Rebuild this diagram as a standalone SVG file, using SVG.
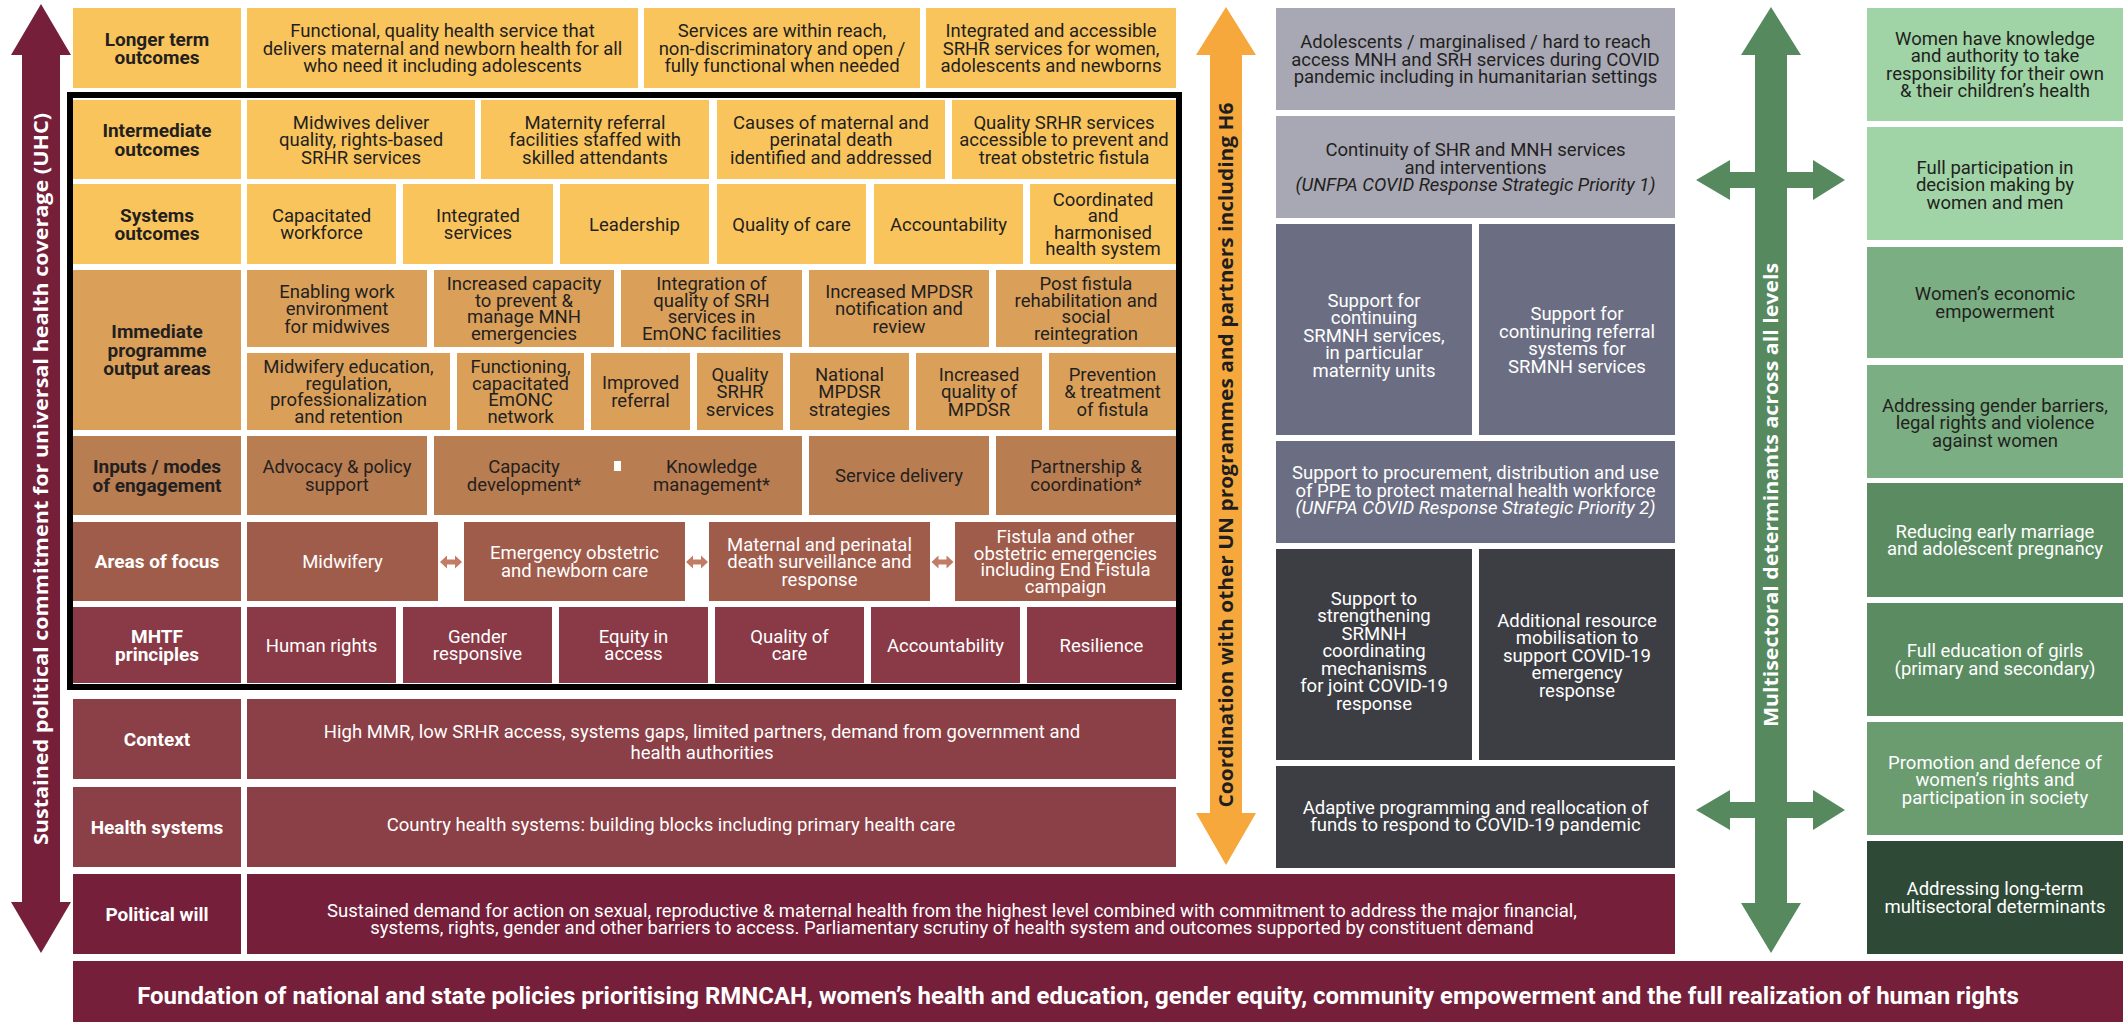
<svg xmlns="http://www.w3.org/2000/svg" width="2123" height="1022" viewBox="0 0 2123 1022">
<style>
.b{font-family:Roboto,"Liberation Sans",Arial,sans-serif;font-size:18.5px;text-anchor:middle}
.lb{font-family:Roboto,"Liberation Sans",Arial,sans-serif;font-size:19px;font-weight:700;text-anchor:middle}
.fd{font-family:Roboto,"Liberation Sans",Arial,sans-serif;font-size:24px;font-weight:700;text-anchor:middle;fill:#FFFFFF}
.rot{font-family:"Open Sans","DejaVu Sans",sans-serif;font-size:20px;font-weight:700;text-anchor:middle}
.dk{fill:#231F20}
.wt{fill:#FFFFFF}
.it{font-style:italic}
.y{fill:#FAC45C}.im{fill:#DAA05A}.in{fill:#B97D52}.ar{fill:#A05C4B}.mh{fill:#8A3A46}.cx{fill:#8B3F46}.pw{fill:#751F3A}
.gr{fill:#A8A8B4}.sl{fill:#6B6E82}.dg{fill:#3D3E43}
.g1{fill:#A0D3A5}.g2{fill:#7BAE82}.g3{fill:#5B8C61}.g4{fill:#6A9C70}.g5{fill:#2E4A36}
</style>
<defs>
<path id="dbl" d="M-11,0 L-4,-6.5 L-4,-2.5 L4,-2.5 L4,-6.5 L11,0 L4,6.5 L4,2.5 L-4,2.5 L-4,6.5 Z" fill="#C27C65"/>
</defs>
<rect x="0" y="0" width="2123" height="1022" fill="#FFFFFF"/>

<!-- Longer term outcomes -->
<g id="lt-label"><rect class="y" x="73" y="8" width="168" height="80"/><text class="lb dk" x="157" y="45.5">Longer term<tspan x="157" y="64">outcomes</tspan></text></g>
<g id="lt-1"><rect class="y" x="247" y="8" width="391" height="80"/><text class="b dk" x="442.5" y="37">Functional, quality health service that<tspan x="442.5" y="54.5">delivers maternal and newborn health for all</tspan><tspan x="442.5" y="72">who need it including adolescents</tspan></text></g>
<g id="lt-2"><rect class="y" x="644" y="8" width="276" height="80"/><text class="b dk" x="782" y="37">Services are within reach,<tspan x="782" y="54.5">non-discriminatory and open /</tspan><tspan x="782" y="72">fully functional when needed</tspan></text></g>
<g id="lt-3"><rect class="y" x="926" y="8" width="250" height="80"/><text class="b dk" x="1051" y="37">Integrated and accessible<tspan x="1051" y="54.5">SRHR services for women,</tspan><tspan x="1051" y="72">adolescents and newborns</tspan></text></g>

<!-- Intermediate outcomes -->
<g id="io-label"><rect class="y" x="73" y="100" width="168" height="79"/><text class="lb dk" x="157" y="137">Intermediate<tspan x="157" y="155.5">outcomes</tspan></text></g>
<g id="io-1"><rect class="y" x="247" y="100" width="228" height="79"/><text class="b dk" x="361" y="128.5">Midwives deliver<tspan x="361" y="146">quality, rights-based</tspan><tspan x="361" y="163.5">SRHR services</tspan></text></g>
<g id="io-2"><rect class="y" x="481" y="100" width="228" height="79"/><text class="b dk" x="595" y="128.5">Maternity referral<tspan x="595" y="146">facilities staffed with</tspan><tspan x="595" y="163.5">skilled attendants</tspan></text></g>
<g id="io-3"><rect class="y" x="717" y="100" width="228" height="79"/><text class="b dk" x="831" y="128.5">Causes of maternal and<tspan x="831" y="146">perinatal death</tspan><tspan x="831" y="163.5">identified and addressed</tspan></text></g>
<g id="io-4"><rect class="y" x="952" y="100" width="224" height="79"/><text class="b dk" x="1064" y="128.5">Quality SRHR services<tspan x="1064" y="146">accessible to prevent and</tspan><tspan x="1064" y="163.5">treat obstetric fistula</tspan></text></g>

<!-- Systems outcomes -->
<g id="so-label"><rect class="y" x="73" y="184" width="168" height="80"/><text class="lb dk" x="157" y="221.5">Systems<tspan x="157" y="240">outcomes</tspan></text></g>
<g id="so-1"><rect class="y" x="247" y="184" width="149" height="80"/><text class="b dk" x="321.5" y="221.75">Capacitated<tspan x="321.5" y="239.25">workforce</tspan></text></g>
<g id="so-2"><rect class="y" x="403" y="184" width="150" height="80"/><text class="b dk" x="478" y="221.75">Integrated<tspan x="478" y="239.25">services</tspan></text></g>
<g id="so-3"><rect class="y" x="560" y="184" width="149" height="80"/><text class="b dk" x="634.5" y="230.5">Leadership</text></g>
<g id="so-4"><rect class="y" x="717" y="184" width="149" height="80"/><text class="b dk" x="791.5" y="230.5">Quality of care</text></g>
<g id="so-5"><rect class="y" x="874" y="184" width="149" height="80"/><text class="b dk" x="948.5" y="230.5">Accountability</text></g>
<g id="so-6"><rect class="y" x="1030" y="184" width="146" height="80"/><text class="b dk" x="1103" y="205.75">Coordinated<tspan x="1103" y="222.25">and</tspan><tspan x="1103" y="238.75">harmonised</tspan><tspan x="1103" y="255.25">health system</tspan></text></g>

<!-- Immediate programme output areas -->
<g id="ip-label"><rect class="im" x="73" y="270" width="168" height="160"/><text class="lb dk" x="157" y="338.3">Immediate<tspan x="157" y="356.8">programme</tspan><tspan x="157" y="375.3">output areas</tspan></text></g>
<g id="ip-1"><rect class="im" x="247" y="270" width="180" height="77"/><text class="b dk" x="337" y="297.5">Enabling work<tspan x="337" y="315">environment</tspan><tspan x="337" y="332.5">for midwives</tspan></text></g>
<g id="ip-2"><rect class="im" x="434" y="270" width="180" height="77"/><text class="b dk" x="524" y="290.25">Increased capacity<tspan x="524" y="306.75">to prevent &amp;</tspan><tspan x="524" y="323.25">manage MNH</tspan><tspan x="524" y="339.75">emergencies</tspan></text></g>
<g id="ip-3"><rect class="im" x="621" y="270" width="181" height="77"/><text class="b dk" x="711.5" y="290.25">Integration of<tspan x="711.5" y="306.75">quality of SRH</tspan><tspan x="711.5" y="323.25">services in</tspan><tspan x="711.5" y="339.75">EmONC facilities</tspan></text></g>
<g id="ip-4"><rect class="im" x="809" y="270" width="180" height="77"/><text class="b dk" x="899" y="297.5">Increased MPDSR<tspan x="899" y="315">notification and</tspan><tspan x="899" y="332.5">review</tspan></text></g>
<g id="ip-5"><rect class="im" x="996" y="270" width="180" height="77"/><text class="b dk" x="1086" y="290.25">Post fistula<tspan x="1086" y="306.75">rehabilitation and</tspan><tspan x="1086" y="323.25">social</tspan><tspan x="1086" y="339.75">reintegration</tspan></text></g>
<g id="ip-6"><rect class="im" x="247" y="353" width="203" height="77"/><text class="b dk" x="348.5" y="373.25">Midwifery education,<tspan x="348.5" y="389.75">regulation,</tspan><tspan x="348.5" y="406.25">professionalization</tspan><tspan x="348.5" y="422.75">and retention</tspan></text></g>
<g id="ip-7"><rect class="im" x="457" y="353" width="127" height="77"/><text class="b dk" x="520.5" y="373.25">Functioning,<tspan x="520.5" y="389.75">capacitated</tspan><tspan x="520.5" y="406.25">EmONC</tspan><tspan x="520.5" y="422.75">network</tspan></text></g>
<g id="ip-8"><rect class="im" x="591" y="353" width="99" height="77"/><text class="b dk" x="640.5" y="389.25">Improved<tspan x="640.5" y="406.75">referral</tspan></text></g>
<g id="ip-9"><rect class="im" x="697" y="353" width="86" height="77"/><text class="b dk" x="740" y="380.5">Quality<tspan x="740" y="398">SRHR</tspan><tspan x="740" y="415.5">services</tspan></text></g>
<g id="ip-10"><rect class="im" x="790" y="353" width="119" height="77"/><text class="b dk" x="849.5" y="380.5">National<tspan x="849.5" y="398">MPDSR</tspan><tspan x="849.5" y="415.5">strategies</tspan></text></g>
<g id="ip-11"><rect class="im" x="916" y="353" width="126" height="77"/><text class="b dk" x="979" y="380.5">Increased<tspan x="979" y="398">quality of</tspan><tspan x="979" y="415.5">MPDSR</tspan></text></g>
<g id="ip-12"><rect class="im" x="1049" y="353" width="127" height="77"/><text class="b dk" x="1112.5" y="380.5">Prevention<tspan x="1112.5" y="398">&amp; treatment</tspan><tspan x="1112.5" y="415.5">of fistula</tspan></text></g>

<!-- Inputs / modes of engagement -->
<g id="in-label"><rect class="in" x="73" y="436" width="168" height="79"/><text class="lb dk" x="157" y="473">Inputs / modes<tspan x="157" y="491.5">of engagement</tspan></text></g>
<g id="in-1"><rect class="in" x="247" y="436" width="180" height="79"/><text class="b dk" x="337" y="473.25">Advocacy &amp; policy<tspan x="337" y="490.75">support</tspan></text></g>
<g id="in-2"><rect class="in" x="434" y="436" width="180" height="79"/><rect class="in" x="614" y="436" width="7" height="25"/><rect class="in" x="614" y="471" width="7" height="44"/><text class="b dk" x="524" y="473.25">Capacity<tspan x="524" y="490.75">development*</tspan></text></g>
<g id="in-3"><rect class="in" x="621" y="436" width="181" height="79"/><text class="b dk" x="711.5" y="473.25">Knowledge<tspan x="711.5" y="490.75">management*</tspan></text></g>
<g id="in-4"><rect class="in" x="809" y="436" width="180" height="79"/><text class="b dk" x="899" y="482">Service delivery</text></g>
<g id="in-5"><rect class="in" x="996" y="436" width="180" height="79"/><text class="b dk" x="1086" y="473.25">Partnership &amp;<tspan x="1086" y="490.75">coordination*</tspan></text></g>

<!-- Areas of focus -->
<g id="af-label"><rect class="ar" x="73" y="522" width="168" height="79"/><text class="lb wt" x="157" y="568.3">Areas of focus</text></g>
<g id="af-1"><rect class="ar" x="247" y="522" width="191" height="79"/><text class="b wt" x="342.5" y="568">Midwifery</text></g>
<g id="af-2"><rect class="ar" x="464" y="522" width="221" height="79"/><text class="b wt" x="574.5" y="559.25">Emergency obstetric<tspan x="574.5" y="576.75">and newborn care</tspan></text></g>
<g id="af-3"><rect class="ar" x="709" y="522" width="221" height="79"/><text class="b wt" x="819.5" y="550.5">Maternal and perinatal<tspan x="819.5" y="568">death surveillance and</tspan><tspan x="819.5" y="585.5">response</tspan></text></g>
<g id="af-4"><rect class="ar" x="955" y="522" width="221" height="79"/><text class="b wt" x="1065.5" y="543.25">Fistula and other<tspan x="1065.5" y="559.75">obstetric emergencies</tspan><tspan x="1065.5" y="576.25">including End Fistula</tspan><tspan x="1065.5" y="592.75">campaign</tspan></text></g>

<!-- MHTF principles -->
<g id="mh-label"><rect class="mh" x="73" y="607" width="168" height="76"/><text class="lb wt" x="157" y="642.5">MHTF<tspan x="157" y="661">principles</tspan></text></g>
<g id="mh-1"><rect class="mh" x="247" y="607" width="149" height="76"/><text class="b wt" x="321.5" y="651.5">Human rights</text></g>
<g id="mh-2"><rect class="mh" x="403" y="607" width="149" height="76"/><text class="b wt" x="477.5" y="642.75">Gender<tspan x="477.5" y="660.25">responsive</tspan></text></g>
<g id="mh-3"><rect class="mh" x="559" y="607" width="149" height="76"/><text class="b wt" x="633.5" y="642.75">Equity in<tspan x="633.5" y="660.25">access</tspan></text></g>
<g id="mh-4"><rect class="mh" x="715" y="607" width="149" height="76"/><text class="b wt" x="789.5" y="642.75">Quality of<tspan x="789.5" y="660.25">care</tspan></text></g>
<g id="mh-5"><rect class="mh" x="871" y="607" width="149" height="76"/><text class="b wt" x="945.5" y="651.5">Accountability</text></g>
<g id="mh-6"><rect class="mh" x="1027" y="607" width="149" height="76"/><text class="b wt" x="1101.5" y="651.5">Resilience</text></g>

<g id="frame"><rect x="70" y="95" width="1109" height="592" fill="none" stroke="#000000" stroke-width="6"/></g>

<!-- Context / Health systems / Political will -->
<g id="ctx-label"><rect class="cx" x="73" y="699" width="168" height="80"/><text class="lb wt" x="157" y="745.8">Context</text></g>
<g id="ctx"><rect class="cx" x="247" y="699" width="929" height="80"/><text class="b wt" x="702" y="738">High MMR, low SRHR access, systems gaps, limited partners, demand from government and<tspan x="702" y="759">health authorities</tspan></text></g>
<g id="hs-label"><rect class="cx" x="73" y="787" width="168" height="80"/><text class="lb wt" x="157" y="833.8">Health systems</text></g>
<g id="hs"><rect class="cx" x="247" y="787" width="929" height="80"/><text class="b wt" x="671" y="831">Country health systems: building blocks including primary health care</text></g>
<g id="pw-label"><rect class="pw" x="73" y="874" width="168" height="80"/><text class="lb wt" x="157" y="920.8">Political will</text></g>
<g id="pw"><rect class="pw" x="247" y="874" width="1428" height="80"/><text class="b wt" x="952" y="916.5">Sustained demand for action on sexual, reproductive &amp; maternal health from the highest level combined with commitment to address the major financial,<tspan x="952" y="934">systems, rights, gender and other barriers to access. Parliamentary scrutiny of health system and outcomes supported by constituent demand</tspan></text></g>
<g id="foundation"><rect class="pw" x="73" y="961" width="2050" height="61"/><text class="fd" x="1078" y="1004">Foundation of national and state policies prioritising RMNCAH, women’s health and education, gender equity, community empowerment and the full realization of human rights</text></g>

<!-- COVID column -->
<g id="cv-1"><rect class="gr" x="1276" y="8" width="399" height="102"/><text class="b dk" x="1475.5" y="48">Adolescents / marginalised / hard to reach<tspan x="1475.5" y="65.5">access MNH and SRH services during COVID</tspan><tspan x="1475.5" y="83">pandemic including in humanitarian settings</tspan></text></g>
<g id="cv-2"><rect class="gr" x="1276" y="116" width="399" height="102"/><text class="b dk" x="1475.5" y="156">Continuity of SHR and MNH services<tspan x="1475.5" y="173.5">and interventions</tspan><tspan class="it" x="1475.5" y="191">(UNFPA COVID Response Strategic Priority 1)</tspan></text></g>
<g id="cv-3"><rect class="sl" x="1276" y="224" width="196" height="211"/><text class="b wt" x="1374" y="306.5">Support for<tspan x="1374" y="324">continuing</tspan><tspan x="1374" y="341.5">SRMNH services,</tspan><tspan x="1374" y="359">in particular</tspan><tspan x="1374" y="376.5">maternity units</tspan></text></g>
<g id="cv-4"><rect class="sl" x="1479" y="224" width="196" height="211"/><text class="b wt" x="1577" y="320.25">Support for<tspan x="1577" y="337.75">continuring referral</tspan><tspan x="1577" y="355.25">systems for</tspan><tspan x="1577" y="372.75">SRMNH services</tspan></text></g>
<g id="cv-5"><rect class="sl" x="1276" y="441" width="399" height="102"/><text class="b wt" x="1475.5" y="479">Support to procurement, distribution and use<tspan x="1475.5" y="496.5">of PPE to protect maternal health workforce</tspan><tspan class="it" x="1475.5" y="514">(UNFPA COVID Response Strategic Priority 2)</tspan></text></g>
<g id="cv-6"><rect class="dg" x="1276" y="549" width="196" height="211"/><text class="b wt" x="1374" y="604.5">Support to<tspan x="1374" y="622">strengthening</tspan><tspan x="1374" y="639.5">SRMNH</tspan><tspan x="1374" y="657">coordinating</tspan><tspan x="1374" y="674.5">mechanisms</tspan><tspan x="1374" y="692">for joint COVID-19</tspan><tspan x="1374" y="709.5">response</tspan></text></g>
<g id="cv-7"><rect class="dg" x="1479" y="549" width="196" height="211"/><text class="b wt" x="1577" y="626.5">Additional resource<tspan x="1577" y="644">mobilisation to</tspan><tspan x="1577" y="661.5">support COVID-19</tspan><tspan x="1577" y="679">emergency</tspan><tspan x="1577" y="696.5">response</tspan></text></g>
<g id="cv-8"><rect class="dg" x="1276" y="766" width="399" height="102"/><text class="b wt" x="1475.5" y="813.5">Adaptive programming and reallocation of<tspan x="1475.5" y="831">funds to respond to COVID-19 pandemic</tspan></text></g>

<!-- Multisectoral column -->
<g id="ms-1"><rect class="g1" x="1867" y="8" width="256" height="113"/><text class="b dk" x="1995" y="44.75">Women have knowledge<tspan x="1995" y="62.25">and authority to take</tspan><tspan x="1995" y="79.75">responsibility for their own</tspan><tspan x="1995" y="97.25">&amp; their children’s health</tspan></text></g>
<g id="ms-2"><rect class="g1" x="1867" y="127" width="256" height="113"/><text class="b dk" x="1995" y="173.5">Full participation in<tspan x="1995" y="191">decision making by</tspan><tspan x="1995" y="208.5">women and men</tspan></text></g>
<g id="ms-3"><rect class="g2" x="1867" y="247" width="256" height="111"/><text class="b dk" x="1995" y="300.25">Women’s economic<tspan x="1995" y="317.75">empowerment</tspan></text></g>
<g id="ms-4"><rect class="g2" x="1867" y="365" width="256" height="113"/><text class="b dk" x="1995" y="411.5">Addressing gender barriers,<tspan x="1995" y="429">legal rights and violence</tspan><tspan x="1995" y="446.5">against women</tspan></text></g>
<g id="ms-5"><rect class="g3" x="1867" y="483" width="256" height="114"/><text class="b wt" x="1995" y="537.75">Reducing early marriage<tspan x="1995" y="555.25">and adolescent pregnancy</tspan></text></g>
<g id="ms-6"><rect class="g3" x="1867" y="603" width="256" height="113"/><text class="b wt" x="1995" y="657.25">Full education of girls<tspan x="1995" y="674.75">(primary and secondary)</tspan></text></g>
<g id="ms-7"><rect class="g4" x="1867" y="722" width="256" height="113"/><text class="b wt" x="1995" y="768.5">Promotion and defence of<tspan x="1995" y="786">women’s rights and</tspan><tspan x="1995" y="803.5">participation in society</tspan></text></g>
<g id="ms-8"><rect class="g5" x="1867" y="841" width="256" height="113"/><text class="b wt" x="1995" y="895.25">Addressing long-term<tspan x="1995" y="912.75">multisectoral determinants</tspan></text></g>

<!-- Connectors -->
<g id="connectors">
<path d="M41,4 L71,55 L60,55 L60,902 L71,902 L41,953 L11,902 L22,902 L22,55 L11,55 Z" fill="#751F3A"/>
<text class="rot" transform="translate(48,479) rotate(-90)" textLength="732" lengthAdjust="spacingAndGlyphs" fill="#FFFFFF">Sustained political commitment for universal health coverage (UHC)</text>
<path d="M1226,7 L1256,55 L1242,55 L1242,813 L1256,813 L1226,865 L1196,813 L1210,813 L1210,55 L1196,55 Z" fill="#F6A83C"/>
<text class="rot" transform="translate(1233,455) rotate(-90)" textLength="705" lengthAdjust="spacingAndGlyphs" fill="#1E1E1E">Coordination with other UN programmes and partners including H6</text>
<path d="M1771,7 L1801,55 L1787,55 L1787,172 L1813,172 L1813,160 L1845,180 L1813,200 L1813,188 L1787,188 L1787,802 L1813,802 L1813,790 L1845,810 L1813,830 L1813,818 L1787,818 L1787,903 L1801,903 L1771,953 L1741,903 L1755,903 L1755,818 L1730,818 L1730,830 L1696,810 L1730,790 L1730,802 L1755,802 L1755,188 L1730,188 L1730,200 L1696,180 L1730,160 L1730,172 L1755,172 L1755,55 L1741,55 Z" fill="#57895F"/>
<text class="rot" transform="translate(1778,495) rotate(-90)" textLength="464" lengthAdjust="spacingAndGlyphs" fill="#FFFFFF">Multisectoral determinants across all levels</text>
<use href="#dbl" x="451" y="562"/>
<use href="#dbl" x="697" y="562"/>
<use href="#dbl" x="942.5" y="562"/>
</g>
</svg>
